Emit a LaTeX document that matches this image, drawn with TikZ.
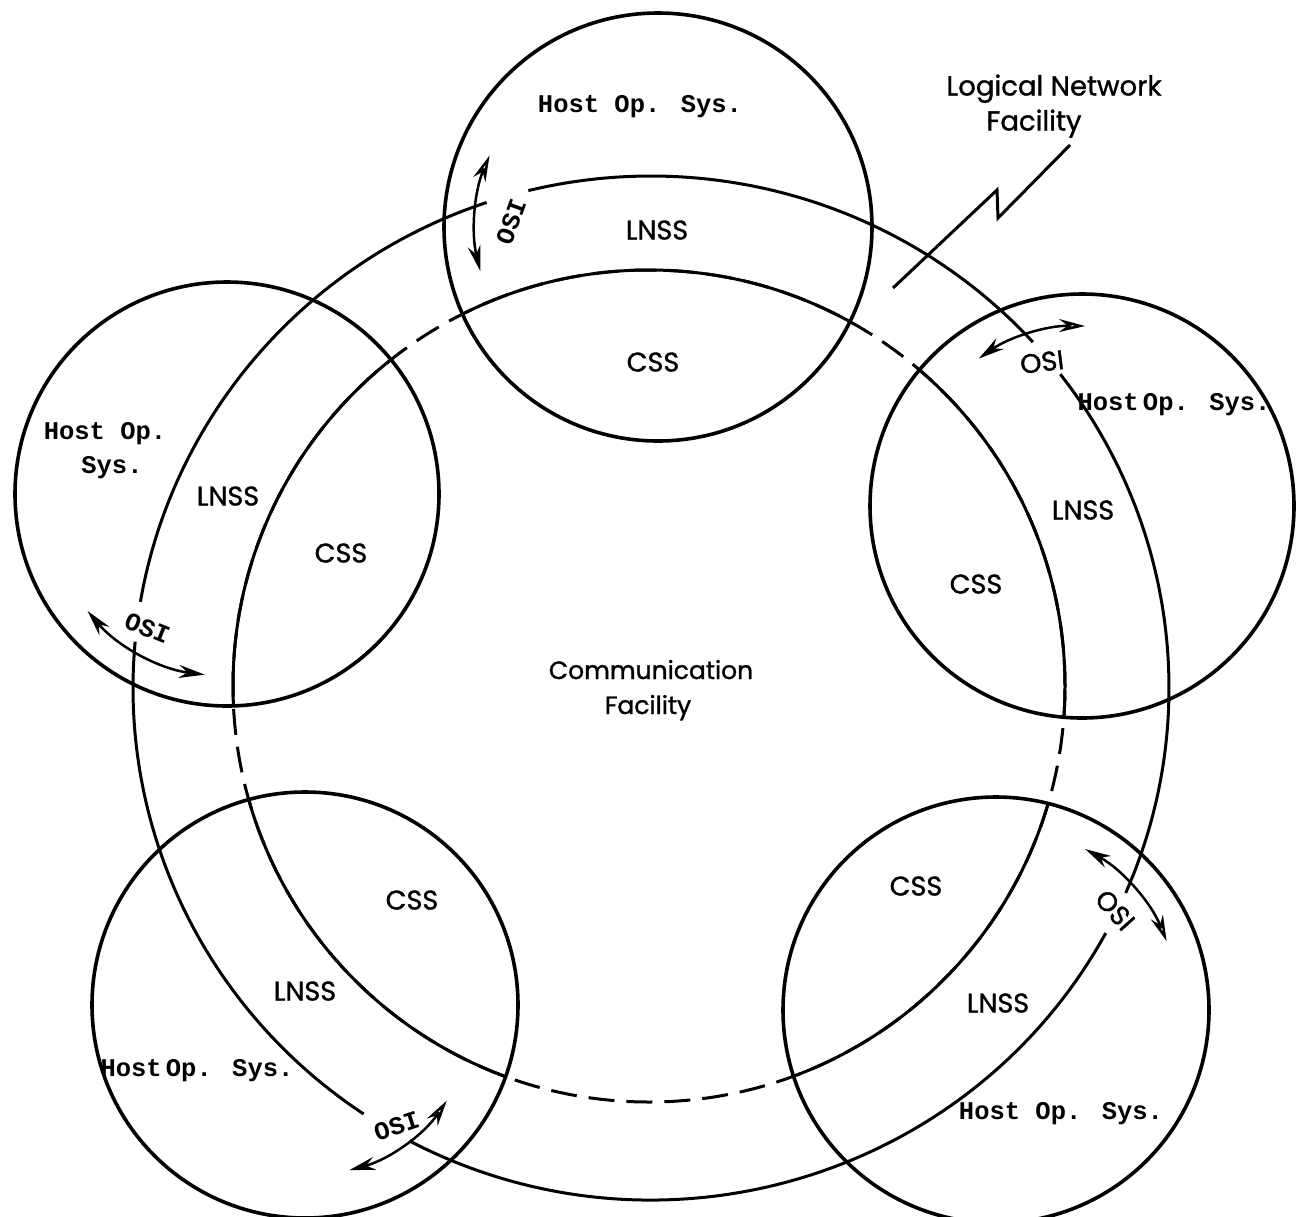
\documentclass[tikz,border=0pt]{standalone}
\usepackage{fontspec}
\setmainfont{Poppins}
\newfontfamily\lblfont{Poppins}[FakeBold=1.2]
\newfontfamily\twfont{Liberation Mono}
\usetikzlibrary{arrows.meta}
\begin{document}
\begin{tikzpicture}[x=1pt,y=1pt,
  hostc/.style={draw, circle, line width=3.6pt, minimum size=#1, inner sep=0pt, outer sep=0pt},
  ring/.style={line width=3pt},
  dashring/.style={line width=3pt, dash pattern=on 26pt off 12pt},
  osiarrow/.style={line width=2.5pt},
  lbl/.style={font=\lblfont\fontsize{27}{32}\selectfont, inner sep=0pt, text height=19pt, text depth=0pt},
  bigl/.style={font=\lblfont\fontsize{27.5}{32}\selectfont, inner sep=0pt, text height=19pt, text depth=0pt},
  comml/.style={font=\lblfont\fontsize{25}{30}\selectfont, inner sep=0pt, text height=18pt, text depth=0pt},
  osisans/.style={font=\lblfont\fontsize{27}{30}\selectfont, inner sep=0pt, text height=19pt, text depth=0pt},
  hostlbl/.style={font=\twfont\bfseries\fontsize{25.5}{30}\selectfont, inner sep=0pt, text height=15pt, text depth=0pt},
  bolt/.style={line width=3pt, line join=miter},
  tipf/.style={},
]
\useasboundingbox (0,0) rectangle (1299,-1216);
\fill[white] (0,0) rectangle (1299,-1216);

% host circles
\node[hostc=428pt] (hT)  at (658,-227)  {};
\node[hostc=424pt] (hL)  at (227,-494)  {};
\node[hostc=424pt] (hR)  at (1082,-506) {};
\node[hostc=426pt] (hBL) at (305,-1005) {};
\node[hostc=426pt] (hBR) at (996,-1010) {};

% ring centres
\coordinate (oc) at (651,-688);
\coordinate (ic) at (649,-686);

% inner ring: dashed outside hosts, solid inside
\draw[dashring] (ic) circle (416pt);
\foreach \h/\r in {hT/214, hL/212, hR/212, hBL/213, hBR/213}{
  \begin{scope}
    \clip (\h.center) circle (\r pt);
    \draw[ring] (ic) circle (416pt);
  \end{scope}
}

% outer ring, broken at the OSI labels
\foreach \a/\b in {108.5/170.3, 174.8/236.3, 242.2/331.4, 336.4/397.8, 402.5/463.7}{
  \draw[ring] (oc) ++(\a:518pt and 512pt) arc[start angle=\a, end angle=\b, x radius=518pt, y radius=512pt];
}

% OSI double arrows along the host circles
\draw[osiarrow, {Stealth[open,length=26pt,width=13pt]}-{Stealth[length=26pt,width=13pt]}]
  (hT.center) ++(157:183pt) arc[start angle=157, end angle=194, radius=183pt];
\draw[osiarrow, {Stealth[length=26pt,width=13pt]}-{Stealth[open,length=26pt,width=13pt]}]
  (hR.center) ++(125:180pt) arc[start angle=125, end angle=89, radius=180pt];
\draw[osiarrow, {Stealth[length=26pt,width=13pt]}-{Stealth[length=26pt,width=13pt]}]
  (hL.center) ++(220:182pt) arc[start angle=220, end angle=263, radius=182pt];
\draw[osiarrow, {Stealth[length=26pt,width=13pt]}-{Stealth[open,length=26pt,width=13pt]}]
  (hBL.center) ++(285:171pt) arc[start angle=285, end angle=326, radius=171pt];
\draw[osiarrow, {Stealth[length=26pt,width=13pt]}-{Stealth[open,length=26pt,width=13pt]}]
  (hBR.center) ++(61:184pt) arc[start angle=61, end angle=22, radius=184pt];

% OSI labels
\node[hostlbl, rotate=70] (oT)  at (512,-222)  {OSI};
\node[hostlbl, rotate=-22] (oL) at (147,-629)  {OSI};
\node[hostlbl, rotate=18] (oBL) at (397,-1127) {OSI};
\node[osisans, rotate=7] (oR)   at (1042,-362) {OSI};
\node[osisans, rotate=-48] (oBR) at (1115,-910) {OSI};

% lightning bolt
\coordinate (b1) at (893,-288);
\coordinate (b2) at (997,-190);
\coordinate (b3) at (998,-218);
\coordinate (b4) at (1070,-145);
\draw[bolt] (b1) -- (b2) -- (b3) -- (b4);
\node[bigl] (lnf1) at (1054,-86) {Logical Network};
\node[bigl] (lnf2) at (1034,-121) {Facility};

% host labels
\node[hostlbl] (tH) at (640,-105) {Host Op. Sys.};
\node[hostlbl] (lH1) at (105,-432) {Host Op.};
\node[hostlbl] (lH2) at (112,-466) {Sys.};
\node[hostlbl] (rH) at (1174,-403) {Host\,Op. Sys.};
\node[hostlbl] (blH) at (197,-1069) {Host\,Op. Sys.};
\node[hostlbl] (brH) at (1061,-1112) {Host Op. Sys.};

% subsystem labels
\node[lbl] (tLN) at (657,-230) {LNSS};
\node[lbl] (tCS) at (653,-362) {CSS};
\node[lbl] (lLN) at (228,-496) {LNSS};
\node[lbl] (lCS) at (341,-553) {CSS};
\node[lbl] (rLN) at (1083,-510) {LNSS};
\node[lbl] (rCS) at (976,-584) {CSS};
\node[lbl] (blCS) at (412,-900) {CSS};
\node[lbl] (blLN) at (305,-991) {LNSS};
\node[lbl] (brCS) at (916,-886) {CSS};
\node[lbl] (brLN) at (998,-1003) {LNSS};

\node[comml] (cf1) at (651,-670) {Communication};
\node[comml] (cf2) at (648,-705) {Facility};
\end{tikzpicture}
\end{document}
